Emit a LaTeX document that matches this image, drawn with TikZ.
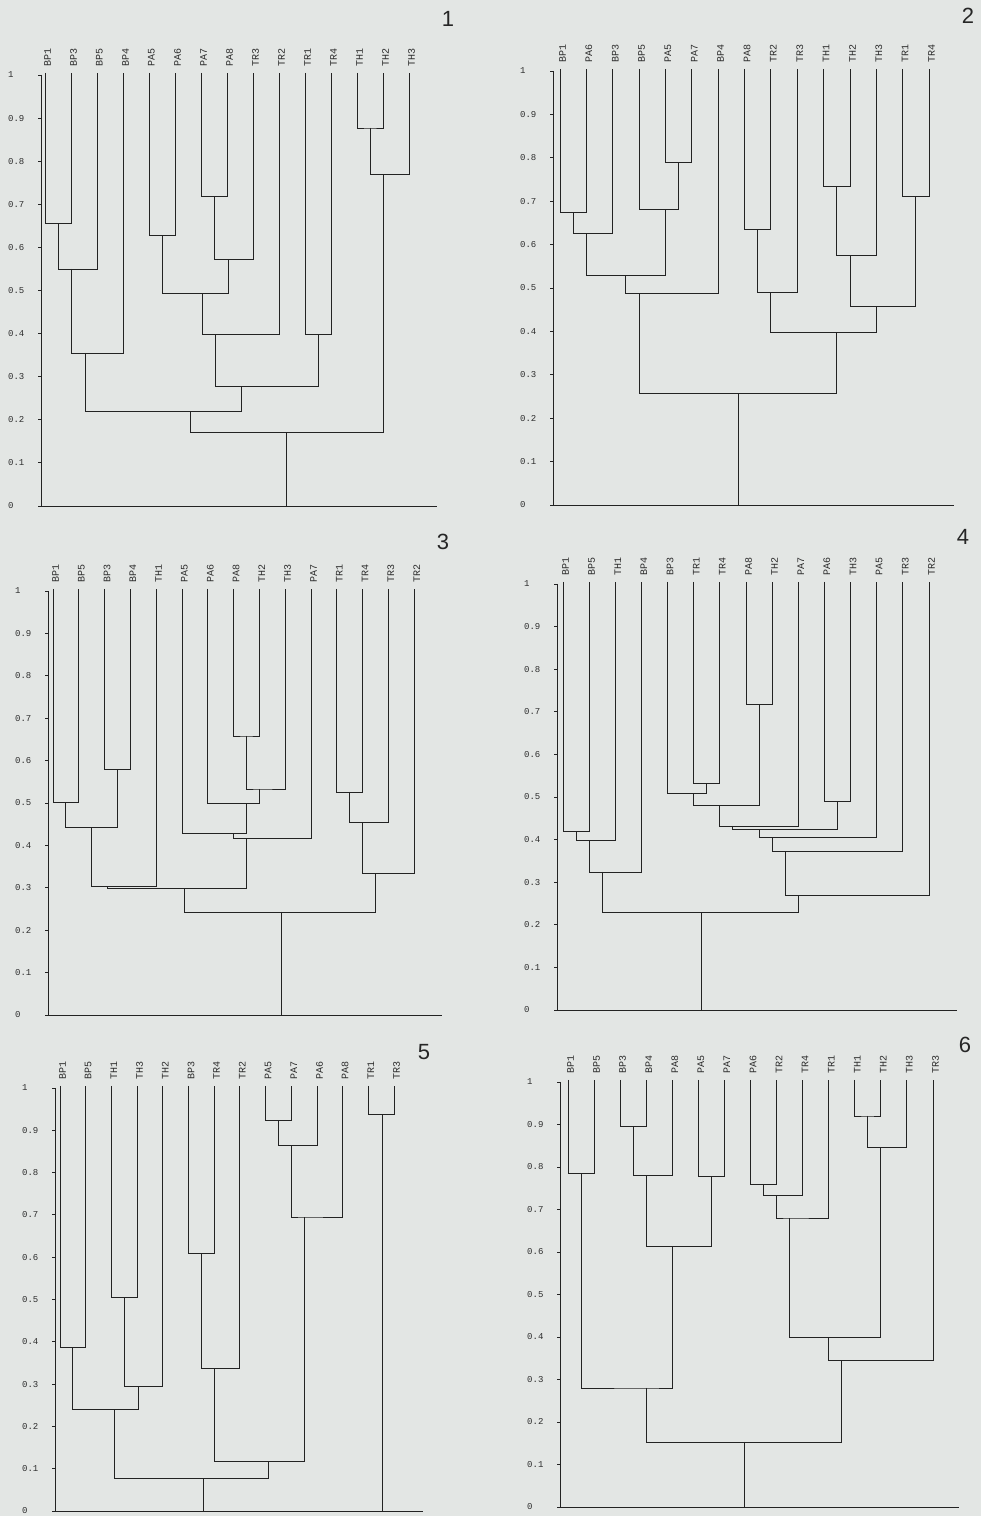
\documentclass[tikz,border=0pt]{standalone}
\usepackage{fontspec}
\newfontfamily\monof{Liberation Mono}
\newfontfamily\sansf{Liberation Sans}
\definecolor{bgc}{RGB}{227,230,228}
\definecolor{lnc}{RGB}{35,35,35}
\definecolor{txc}{RGB}{45,45,45}
\tikzset{
  dline/.style={draw=lnc, line width=0.85pt},
  leaflab/.style={rotate=90, anchor=west, inner sep=0pt, text=txc, font=\monof\fontsize{10}{11}\selectfont},
  ticklab/.style={anchor=west, inner sep=0pt, text=txc, font=\monof\fontsize{9}{10}\selectfont},
  panelnum/.style={text=black!85, font=\sansf\fontsize{22}{24}\selectfont, inner sep=0pt},
}
\newcommand\leafset[2]{%
  \foreach \n [count=\i from 0] in {#2}{%
    \coordinate (#1-\i) at (\i,1.005);
    \node[leaflab] (#1t\i) at ([shift={(2.5pt,6pt)}]#1-\i) {\n};
  }}
\newcommand\axisset[3]{%
  \coordinate (#1base) at (#2,0);
  \coordinate (#1top) at (#2,1);
  \coordinate (#1end) at (#3,0);
  \draw[dline] (#1top) -- (#1base) -- (#1end);
  \foreach \v [count=\k] in {0,0.1,0.2,0.3,0.4,0.5,0.6,0.7,0.8,0.9,1}{%
    \coordinate (#1tk\k) at (#2,\v);
    \draw[dline] (#1tk\k) -- ++(-3pt,0pt);
    \node[ticklab] (#1tl\k) at ([xshift=-33pt]#1tk\k) {\v};
  }}
\newcommand\mrg[5]{%
  \coordinate (#3) at (#4,#5);
  \draw[dline] (#1) |- (#3) -| (#2);}
\begin{document}
\begin{tikzpicture}
\fill[bgc] (0pt,0pt) rectangle (981pt,1516pt);
\useasboundingbox (0pt,0pt) rectangle (981pt,1516pt);

% panel numbers
\node[panelnum] (n1) at (448pt,1497pt) {1};
\node[panelnum] (n2) at (968pt,1500pt) {2};
\node[panelnum] (n3) at (443pt,974pt) {3};
\node[panelnum] (n4) at (963pt,979pt) {4};
\node[panelnum] (n5) at (424pt,464pt) {5};
\node[panelnum] (n6) at (965pt,471pt) {6};

% ---------- panel 1
\begin{scope}[shift={(45pt,1010pt)},x=26pt,y=431pt]
\axisset{p1}{-0.154}{15.08}
\leafset{p1}{BP1,BP3,BP5,BP4,PA5,PA6,PA7,PA8,TR3,TR2,TR1,TR4,TH1,TH2,TH3}
\mrg{p1-0}{p1-1}{p1a}{0.5}{0.655}
\mrg{p1a}{p1-2}{p1b}{1}{0.55}
\mrg{p1b}{p1-3}{p1c}{1.55}{0.355}
\mrg{p1-4}{p1-5}{p1d}{4.5}{0.628}
\mrg{p1-6}{p1-7}{p1e}{6.5}{0.718}
\mrg{p1e}{p1-8}{p1f}{7.05}{0.572}
\mrg{p1d}{p1f}{p1g}{6.05}{0.494}
\mrg{p1g}{p1-9}{p1h}{6.55}{0.397}
\mrg{p1-10}{p1-11}{p1i}{10.5}{0.397}
\mrg{p1h}{p1i}{p1j}{7.55}{0.278}
\mrg{p1c}{p1j}{p1k}{5.6}{0.22}
\mrg{p1-12}{p1-13}{p1l}{12.5}{0.877}
\mrg{p1l}{p1-14}{p1m}{13}{0.77}
\mrg{p1k}{p1m}{p1r}{9.3}{0.17}
\draw[dline] (p1r) -- (p1r |- p1base);
\end{scope}

% ---------- panel 2
\begin{scope}[shift={(560pt,1011pt)},x=26.36pt,y=434pt]
\axisset{p2}{-0.266}{14.95}
\leafset{p2}{BP1,PA6,BP3,BP5,PA5,PA7,BP4,PA8,TR2,TR3,TH1,TH2,TH3,TR1,TR4}
\mrg{p2-0}{p2-1}{p2a}{0.5}{0.675}
\mrg{p2a}{p2-2}{p2b}{1}{0.625}
\mrg{p2-4}{p2-5}{p2c}{4.5}{0.79}
\mrg{p2-3}{p2c}{p2d}{4}{0.68}
\mrg{p2b}{p2d}{p2e}{2.5}{0.528}
\mrg{p2e}{p2-6}{p2f}{3}{0.488}
\mrg{p2-7}{p2-8}{p2g}{7.5}{0.635}
\mrg{p2g}{p2-9}{p2h}{8}{0.49}
\mrg{p2-10}{p2-11}{p2i}{10.5}{0.733}
\mrg{p2i}{p2-12}{p2j}{11}{0.575}
\mrg{p2-13}{p2-14}{p2k}{13.5}{0.71}
\mrg{p2j}{p2k}{p2l}{12}{0.458}
\mrg{p2h}{p2l}{p2m}{10.5}{0.397}
\mrg{p2f}{p2m}{p2r}{6.75}{0.258}
\draw[dline] (p2r) -- (p2r |- p2base);
\end{scope}

% ---------- panel 3
\begin{scope}[shift={(53pt,501pt)},x=25.8pt,y=424pt]
\axisset{p3}{-0.194}{15.08}
\leafset{p3}{BP1,BP5,BP3,BP4,TH1,PA5,PA6,PA8,TH2,TH3,PA7,TR1,TR4,TR3,TR2}
\mrg{p3-0}{p3-1}{p3a}{0.5}{0.502}
\mrg{p3-2}{p3-3}{p3b}{2.5}{0.58}
\mrg{p3a}{p3b}{p3c}{1.5}{0.443}
\mrg{p3c}{p3-4}{p3d}{2.1}{0.304}
\mrg{p3-7}{p3-8}{p3e}{7.5}{0.658}
\mrg{p3e}{p3-9}{p3f}{8}{0.533}
\mrg{p3-6}{p3f}{p3g}{7.5}{0.498}
\mrg{p3-5}{p3g}{p3h}{7}{0.429}
\mrg{p3h}{p3-10}{p3i}{7.5}{0.417}
\mrg{p3d}{p3i}{p3j}{5.1}{0.298}
\mrg{p3-11}{p3-12}{p3k}{11.5}{0.526}
\mrg{p3k}{p3-13}{p3l}{12}{0.453}
\mrg{p3l}{p3-14}{p3m}{12.5}{0.335}
\mrg{p3j}{p3m}{p3r}{8.85}{0.243}
\draw[dline] (p3r) -- (p3r |- p3base);
\end{scope}

% ---------- panel 4
\begin{scope}[shift={(563pt,506pt)},x=26.14pt,y=426pt]
\axisset{p4}{-0.23}{15.07}
\leafset{p4}{BP1,BP5,TH1,BP4,BP3,TR1,TR4,PA8,TH2,PA7,PA6,TH3,PA5,TR3,TR2}
\mrg{p4-0}{p4-1}{p4a}{0.5}{0.42}
\mrg{p4a}{p4-2}{p4b}{1}{0.397}
\mrg{p4b}{p4-3}{p4c}{1.5}{0.324}
\mrg{p4-5}{p4-6}{p4d}{5.5}{0.533}
\mrg{p4-4}{p4d}{p4e}{5}{0.509}
\mrg{p4-7}{p4-8}{p4f}{7.5}{0.718}
\mrg{p4e}{p4f}{p4g}{6}{0.481}
\mrg{p4g}{p4-9}{p4h}{6.5}{0.432}
\mrg{p4-10}{p4-11}{p4i}{10.5}{0.49}
\mrg{p4h}{p4i}{p4j}{7.5}{0.423}
\mrg{p4j}{p4-12}{p4k}{8}{0.404}
\mrg{p4k}{p4-13}{p4l}{8.5}{0.373}
\mrg{p4l}{p4-14}{p4m}{9}{0.27}
\mrg{p4c}{p4m}{p4r}{5.3}{0.23}
\draw[dline] (p4r) -- (p4r |- p4base);
\end{scope}

% ---------- panel 5
\begin{scope}[shift={(60pt,5pt)},x=25.7pt,y=423pt]
\axisset{p5}{-0.195}{14.12}
\leafset{p5}{BP1,BP5,TH1,TH3,TH2,BP3,TR4,TR2,PA5,PA7,PA6,PA8,TR1,TR3}
\mrg{p5-0}{p5-1}{p5a}{0.5}{0.387}
\mrg{p5-2}{p5-3}{p5b}{2.5}{0.505}
\mrg{p5b}{p5-4}{p5c}{3.05}{0.295}
\mrg{p5a}{p5c}{p5d}{2.1}{0.241}
\mrg{p5-5}{p5-6}{p5e}{5.5}{0.608}
\mrg{p5e}{p5-7}{p5f}{6}{0.338}
\mrg{p5-8}{p5-9}{p5g}{8.5}{0.924}
\mrg{p5g}{p5-10}{p5h}{9}{0.865}
\mrg{p5h}{p5-11}{p5i}{9.5}{0.695}
\mrg{p5f}{p5i}{p5j}{8.1}{0.118}
\mrg{p5d}{p5j}{p5k}{5.6}{0.076}
\mrg{p5-12}{p5-13}{p5l}{12.55}{0.938}
\draw[dline] (p5k) -- (p5k |- p5base);
\draw[dline] (p5l) -- (p5l |- p5base);
\end{scope}

% ---------- panel 6
\begin{scope}[shift={(568pt,9pt)},x=26.07pt,y=425pt]
\axisset{p6}{-0.307}{15.0}
\leafset{p6}{BP1,BP5,BP3,BP4,PA8,PA5,PA7,PA6,TR2,TR4,TR1,TH1,TH2,TH3,TR3}
\mrg{p6-0}{p6-1}{p6a}{0.5}{0.784}
\mrg{p6-2}{p6-3}{p6b}{2.5}{0.896}
\mrg{p6b}{p6-4}{p6c}{3}{0.779}
\mrg{p6-5}{p6-6}{p6d}{5.5}{0.777}
\mrg{p6c}{p6d}{p6e}{4}{0.612}
\mrg{p6a}{p6e}{p6f}{3}{0.28}
\mrg{p6-7}{p6-8}{p6g}{7.5}{0.758}
\mrg{p6g}{p6-9}{p6h}{8}{0.732}
\mrg{p6h}{p6-10}{p6i}{8.5}{0.68}
\mrg{p6-11}{p6-12}{p6j}{11.5}{0.92}
\mrg{p6j}{p6-13}{p6k}{12}{0.847}
\mrg{p6i}{p6k}{p6l}{10}{0.398}
\mrg{p6l}{p6-14}{p6m}{10.5}{0.344}
\mrg{p6f}{p6m}{p6r}{6.75}{0.153}
\draw[dline] (p6r) -- (p6r |- p6base);
\end{scope}
\end{tikzpicture}
\end{document}
